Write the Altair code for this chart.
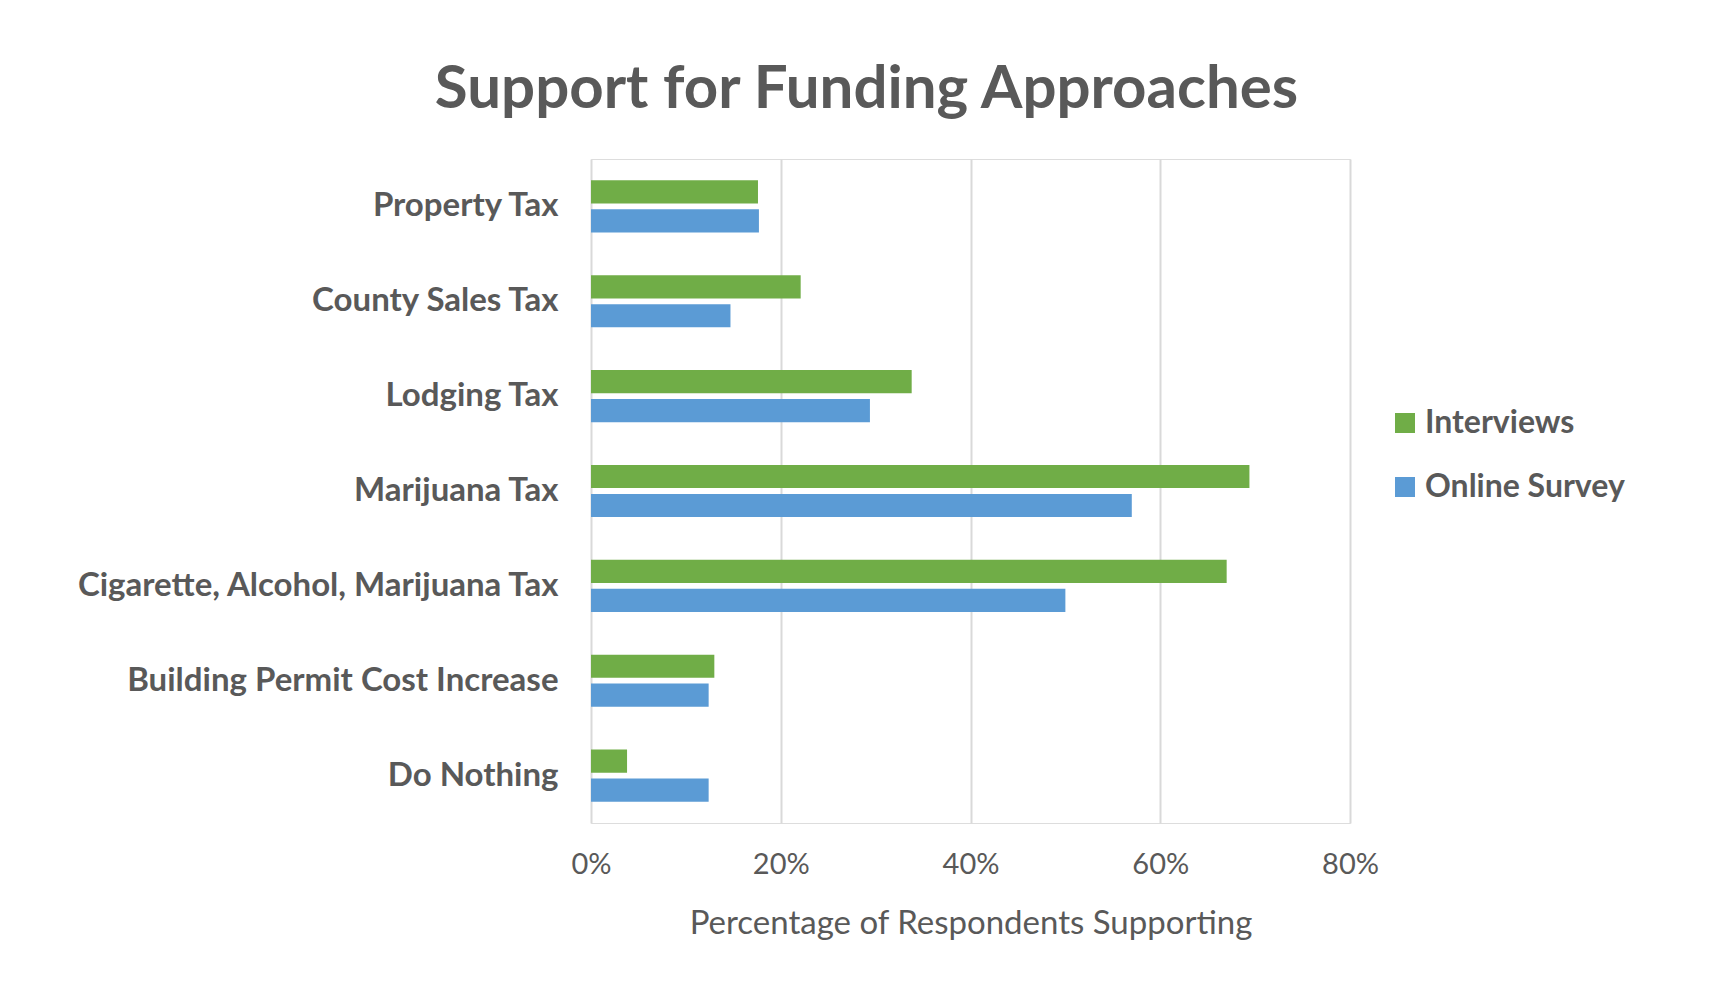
import altair as alt
import pandas as pd

categories = ["Property Tax", "County Sales Tax", "Lodging Tax", "Marijuana Tax",
              "Cigarette, Alcohol, Marijuana Tax", "Building Permit Cost Increase", "Do Nothing"]
interviews = [0.176, 0.221, 0.338, 0.694, 0.670, 0.130, 0.038]
online_survey = [0.177, 0.147, 0.294, 0.570, 0.500, 0.124, 0.124]
series = ["Interviews", "Online Survey"]
colors = ["#70AD47", "#5B9BD5"]
x_ticks = [0, 0.2, 0.4, 0.6, 0.8]

rows = []
for c, a, b in zip(categories, interviews, online_survey):
    rows.append({"category": c, "series": series[0], "value": a})
    rows.append({"category": c, "series": series[1], "value": b})
df = pd.DataFrame(rows)

TXT = "#595959"
FONT = "Lato"

chart = alt.Chart(df).mark_bar().encode(
    x=alt.X("value:Q",
            scale=alt.Scale(domain=[0, 0.8], nice=False),
            axis=alt.Axis(values=x_ticks, format=".0%", title="Percentage of Respondents Supporting",
                          grid=True, gridColor="#D9D9D9", gridWidth=2, domain=False, ticks=False,
                          labelFlush=False,
                          labelFont=FONT, labelFontSize=29, labelColor=TXT, labelPadding=27,
                          titleFont=FONT, titleFontSize=33, titleFontWeight="normal", titleColor=TXT,
                          titlePadding=28)),
    y=alt.Y("category:N", sort=categories,
            scale=alt.Scale(paddingInner=0.45, paddingOuter=0.225),
            axis=alt.Axis(title=None, domain=False, ticks=False, labelFont=FONT, labelFontSize=33,
                          labelFontWeight="bold", labelColor=TXT, labelPadding=33, labelLimit=800)),
    yOffset=alt.YOffset("series:N", sort=series, scale=alt.Scale(paddingInner=0.2, paddingOuter=0)),
    color=alt.Color("series:N", sort=series,
                    scale=alt.Scale(domain=series, range=colors),
                    legend=alt.Legend(title=None, orient="none", legendX=798, legendY=248,
                                      symbolType="square", symbolSize=400, symbolStrokeWidth=0,
                                      labelFont=FONT, labelFontSize=32, labelFontWeight="bold",
                                      labelColor=TXT, labelOffset=4, rowPadding=32, labelLimit=500)),
).properties(
    width=759,
    height=664,
    autosize=alt.AutoSizeParams(type="none"),
    padding={"left": 583, "top": 151, "right": 359, "bottom": 170},
    title=alt.TitleParams("Support for Funding Approaches", font=FONT, fontSize=60,
                          fontWeight="bold", color=TXT, anchor="middle", dx=-104, dy=57,
                          baseline="alphabetic", offset=48),
).configure_view(stroke=None).configure(background="white")

chart.save("out.html", embed_options={"renderer": "svg", "actions": False})
